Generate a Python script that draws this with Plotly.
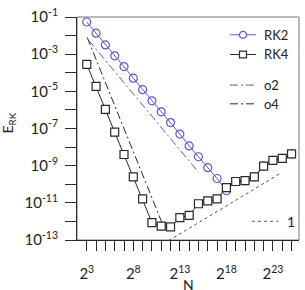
import plotly.graph_objects as go

# ---- data ----
N_exp = list(range(3, 26))
N = [2 ** k for k in N_exp]

rk2 = [5.37e-2, 1.35e-2, 3.16e-3, 8.13e-4, 2.14e-4, 5.13e-5, 1.23e-5, 3.09e-6,
       7.94e-7, 2.09e-7, 5.01e-8, 1.15e-8, 3.02e-9, 7.76e-10, 2.04e-10, 4.47e-11,
       1.41e-10, 1.55e-10, 2.51e-10, 9.55e-10, 1.91e-9, 2.45e-9, 4.27e-9]
rk4 = [2.82e-4, 1.86e-5, 1.07e-6, 6.31e-8, 3.98e-9, 2.51e-10, 1.62e-11, 8.71e-13,
       5.62e-13, 5.13e-13, 1.58e-12, 2.14e-12, 8.91e-12, 1.26e-11, 1.62e-11, 6.61e-11,
       1.41e-10, 1.55e-10, 2.51e-10, 9.55e-10, 1.91e-9, 2.45e-9, 4.27e-9]

o2_N = [9.19, 32768]
o2_E = [5.62e-3, 4.47e-10]
o4_N = [8.28, 2702]
o4_E = [7.94e-3, 3.39e-13]
one_N = [3565, 1.41e7]
one_E = [9.3e-14, 3.7e-10]

x_tick_exp = list(range(3, 26))
x_label_exp = [3, 8, 13, 18, 23]
y_tick_exp = list(range(-13, 0))
y_label_exp = [-13, -11, -9, -7, -5, -3, -1]

BLUE = "#5a5ad8"
BLACK = "#2a2a2a"
FONT = "Lato"

fig = go.Figure()
fig.add_trace(go.Scatter(x=o2_N, y=o2_E, mode="lines",
                         line=dict(color=BLUE, width=1, dash="8px,3px,2px,3px")))
fig.add_trace(go.Scatter(x=o4_N, y=o4_E, mode="lines",
                         line=dict(color=BLACK, width=1, dash="8px,3px,2px,3px")))
fig.add_trace(go.Scatter(x=one_N, y=one_E, mode="lines",
                         line=dict(color="#555555", width=1, dash="3px,3px")))
fig.add_trace(go.Scatter(x=N, y=rk2, mode="lines+markers",
                         line=dict(color=BLUE, width=1),
                         marker=dict(symbol="circle-open", size=8, color=BLUE,
                                     line=dict(width=1.2, color=BLUE))))
fig.add_trace(go.Scatter(x=N, y=rk4, mode="lines+markers",
                         line=dict(color=BLACK, width=1),
                         marker=dict(symbol="square", size=8, color="white",
                                     line=dict(width=1.2, color=BLACK))))

# pixel -> paper helpers for the manual legend
L, R, T, B = 77, 299, 14, 240
def px(x):
    return (x - L) / (R - L)
def py(y):
    return (B - y) / (B - T)

shapes = [dict(type="rect", xref="paper", yref="paper", x0=0, x1=1, y0=0, y1=1,
               line=dict(color="#777777", width=1), layer="below")]
annotations = []

legend_rows = [
    ("RK2", 32, BLUE, "solid", "circle"),
    ("RK4", 52, BLACK, "solid", "square"),
    ("o2", 83, BLUE, "8px,3px,2px,3px", None),
    ("o4", 102, BLACK, "8px,3px,2px,3px", None),
]
for name, yy, col, dash, mk in legend_rows:
    shapes.append(dict(type="line", xref="paper", yref="paper",
                       x0=px(230), x1=px(256), y0=py(yy), y1=py(yy),
                       line=dict(color=col, width=1, dash=dash)))
    if mk == "circle":
        shapes.append(dict(type="circle", xref="paper", yref="paper",
                           x0=px(239.5), x1=px(246.5), y0=py(yy + 3.5), y1=py(yy - 3.5),
                           line=dict(color=col, width=1.2), fillcolor="white"))
    elif mk == "square":
        shapes.append(dict(type="rect", xref="paper", yref="paper",
                           x0=px(239.5), x1=px(246.5), y0=py(yy + 3.5), y1=py(yy - 3.5),
                           line=dict(color=col, width=1.2), fillcolor="white"))
    annotations.append(dict(text=name, xref="paper", yref="paper", x=px(262), y=py(yy),
                            xanchor="left", yanchor="middle", showarrow=False,
                            font=dict(family=FONT, size=13, color="#222")))

shapes.append(dict(type="line", xref="paper", yref="paper",
                   x0=px(252), x1=px(278), y0=py(221), y1=py(221),
                   line=dict(color="#555555", width=1, dash="3px,3px")))
annotations.append(dict(text="1", xref="paper", yref="paper", x=px(285), y=py(221),
                        xanchor="left", yanchor="middle", showarrow=False,
                        font=dict(family=FONT, size=14, color="#222")))

annotations.append(dict(text="E<sub>RK</sub>", xref="paper", yref="paper",
                        x=px(9), y=py(122), textangle=-90, showarrow=False,
                        xanchor="center", yanchor="middle",
                        font=dict(family=FONT, size=14, color="#222")))
annotations.append(dict(text="N", xref="paper", yref="paper",
                        x=px(188), y=py(285.5), showarrow=False,
                        xanchor="center", yanchor="middle",
                        font=dict(family=FONT, size=14, color="#222")))

fig.update_layout(
    width=305, height=290,
    margin=dict(l=L, r=305 - R, t=T, b=290 - B),
    paper_bgcolor="white", plot_bgcolor="white",
    showlegend=False,
    shapes=shapes, annotations=annotations,
    font=dict(family=FONT, size=14, color="#222"),
)
fig.update_xaxes(
    type="log", range=[1.95 * 0.30103, 25.8 * 0.30103],
    tickvals=[2 ** k for k in x_tick_exp],
    ticktext=[f"2<sup>{k}</sup>" if k in x_label_exp else "" for k in x_tick_exp],
    ticks="outside", ticklen=10, tickcolor=BLACK, tickwidth=1,
    ticklabelstandoff=10,
    showline=True, linecolor=BLACK, linewidth=1,
    showgrid=False, zeroline=False,
    tickfont=dict(family=FONT, size=15, color="#222"),
)
fig.update_yaxes(
    type="log", range=[-13, -1],
    tickvals=[10.0 ** k for k in y_tick_exp],
    ticktext=[f"10<sup>{k}</sup>" if k in y_label_exp else "" for k in y_tick_exp],
    ticks="outside", ticklen=11, tickcolor=BLACK, tickwidth=1,
    ticklabelstandoff=4,
    showline=True, linecolor=BLACK, linewidth=1,
    showgrid=False, zeroline=False,
    tickfont=dict(family=FONT, size=15, color="#222"),
)

fig.write_html("out.html")
